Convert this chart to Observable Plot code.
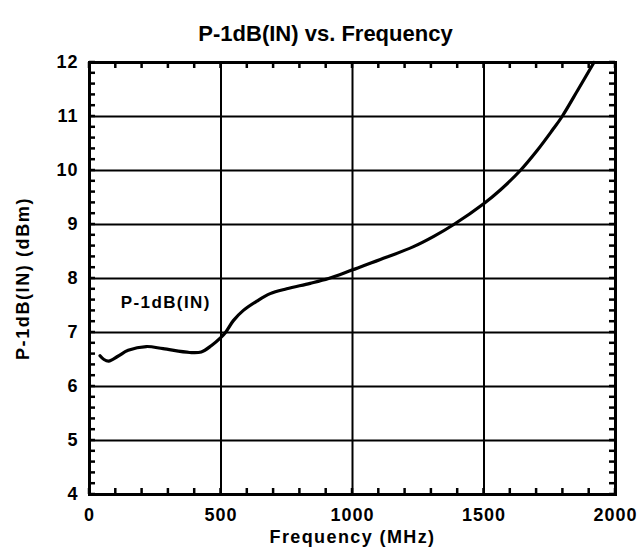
<!DOCTYPE html>
<html>
<head>
<meta charset="utf-8">
<script src="https://cdn.jsdelivr.net/npm/d3@7"></script>
<script src="https://cdn.jsdelivr.net/npm/@observablehq/plot@0.6"></script>
<style>
  body { margin: 0; background: #fff; }
</style>
</head>
<body>
<div id="chart"></div>
<script>
// P-1dB(IN) measured against frequency
const freqMHz = [40, 55, 73, 108, 147, 216, 280, 381, 425, 464, 500, 517, 547, 585, 636, 687, 750, 839, 909, 1000, 1106, 1232, 1309, 1385, 1500, 1562, 1638, 1702, 1759, 1797, 1858, 1918];
const p1dBIn = [6.57, 6.50, 6.47, 6.56, 6.67, 6.74, 6.70, 6.63, 6.64, 6.76, 6.91, 7.00, 7.22, 7.41, 7.58, 7.72, 7.81, 7.91, 8.00, 8.16, 8.35, 8.59, 8.78, 9.00, 9.39, 9.64, 10.00, 10.37, 10.74, 11.00, 11.50, 12.00];

const xMajor = [0, 500, 1000, 1500, 2000];
const yMajor = [4, 5, 6, 7, 8, 9, 10, 11, 12];
const xMinor = d3.range(0, 2001, 100);
const yMinor = d3.range(40, 121, 2).map(v => v / 10);

const seriesLabel = {text: "P-1dB(IN)", x: 290, y: 7.56};

const curve = freqMHz.map((f, i) => ({f, v: p1dBIn[i]}));

const tickLen = 6;

// short inward ticks on all four sides of the frame, placed with the plot's scales
function minorTicks(index, scales, values, dims) {
  const left = dims.marginLeft, right = dims.width - dims.marginRight;
  const top = dims.marginTop, bottom = dims.height - dims.marginBottom;
  const g = d3.create("svg:g").attr("stroke", "#000").attr("stroke-width", 2.5);
  for (const f of xMinor) {
    const px = scales.x(f);
    g.append("line").attr("x1", px).attr("x2", px).attr("y1", bottom).attr("y2", bottom - tickLen);
    g.append("line").attr("x1", px).attr("x2", px).attr("y1", top).attr("y2", top + tickLen);
  }
  for (const v of yMinor) {
    const py = scales.y(v);
    g.append("line").attr("y1", py).attr("y2", py).attr("x1", left).attr("x2", left + tickLen);
    g.append("line").attr("y1", py).attr("y2", py).attr("x1", right).attr("x2", right - tickLen);
  }
  return g.node();
}

const chart = Plot.plot({
  width: 643,
  height: 557,
  marginLeft: 89,
  marginRight: 28,
  marginTop: 62,
  marginBottom: 63,
  style: {fontFamily: "Liberation Sans, Arial, sans-serif", fontWeight: "bold", color: "#000", background: "#fff"},
  x: {domain: [0, 2000]},
  y: {domain: [4, 12]},
  marks: [
    // major grid
    Plot.ruleX(xMajor.slice(1, -1), {stroke: "#000", strokeWidth: 2}),
    Plot.ruleY(yMajor.slice(1, -1), {stroke: "#000", strokeWidth: 2}),
    // data curve
    Plot.line(curve, {x: "f", y: "v", curve: "catmull-rom", stroke: "#000", strokeWidth: 3.2}),
    Plot.frame({stroke: "#000", strokeWidth: 3}),
    minorTicks,
    // axes
    Plot.axisX(xMajor, {tickSize: 0, tickPadding: 14, fontSize: 18, fontWeight: "bold", tickFormat: d => String(d), label: null}),
    Plot.axisY(yMajor, {tickSize: 0, tickPadding: 11, fontSize: 18, fontWeight: "bold", tickFormat: d => String(d), label: null}),
    Plot.text(["Frequency (MHz)"], {frameAnchor: "bottom", textAnchor: "middle", dy: 48, fontSize: 18, fontWeight: "bold", fill: "#000"}),
    Plot.text(["P-1dB(IN) (dBm)"], {frameAnchor: "left", textAnchor: "middle", dx: -66, rotate: -90, fontSize: 18, fontWeight: "bold", fill: "#000"}),
    Plot.text(["P-1dB(IN) vs. Frequency"], {frameAnchor: "top", textAnchor: "middle", dx: -27, dy: -37, fontSize: 22, fontWeight: "bold", fill: "#000"}),
    Plot.text([seriesLabel], {x: "x", y: "y", text: "text", fontSize: 17, fontWeight: "bold", fill: "#000"})
  ]
});

// slightly wider letter spacing on the axis texts and the series label
const svg = d3.select(chart);
svg.selectAll('g[aria-label="x-axis tick label"] text, g[aria-label="y-axis tick label"] text').attr("letter-spacing", 1);
svg.selectAll('g[aria-label="text"] text').each(function () {
  const t = d3.select(this), s = t.text();
  if (s === "Frequency (MHz)") t.attr("letter-spacing", 1.4);
  else if (s === "P-1dB(IN) (dBm)") t.attr("letter-spacing", 1.6);
  else if (s === "P-1dB(IN)") t.attr("letter-spacing", 1.4);
});
document.getElementById("chart").appendChild(chart);
</script>
</body>
</html>
